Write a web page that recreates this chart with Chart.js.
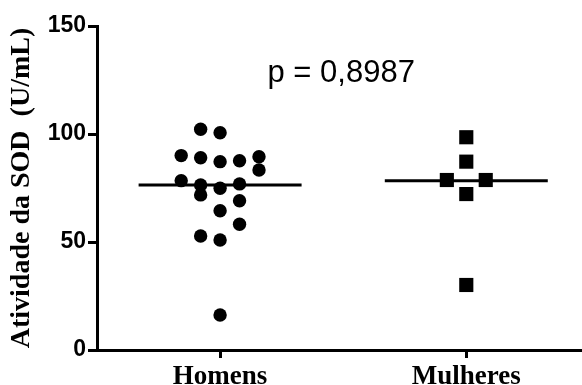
<!DOCTYPE html>
<html>
<head>
<meta charset="utf-8">
<script src="https://cdn.jsdelivr.net/npm/chart.js@4.4.0/dist/chart.umd.min.js"></script>
<style>
  html, body { margin: 0; padding: 0; background: #fff; }
  #wrap { width: 582px; height: 385px; }
</style>
</head>
<body>
<div id="wrap"><canvas id="sodChart" width="582" height="385"></canvas></div>
<script>
// --- Data ---
const groups = ['Homens', 'Mulheres'];
const groupX = [1, 3];

// SOD activity (U/mL) per subject, and the column each dot sits in
const homensSOD = [102.2, 100.6, 90.0, 89.0, 87.2, 87.6, 89.5, 83.3, 78.4, 76.4,
                   71.8, 74.9, 76.9, 69.1, 64.5, 58.2, 52.8, 50.9, 16.2];
const homensCol = [-1, 0, -2, -1, 0, 1, 2, 2, -2, -1,
                   -1, 0, 1, 1, 0, 1, -1, 0, 0];
const mulheresSOD = [98.5, 87.2, 78.7, 78.7, 72.2, 30.1];
const mulheresCol = [0, 0, -1, 1, 0, 0];

const groupMeans = [76.4, 78.4];
const yTicks = [0, 50, 100, 150];
const pValueText = 'p = 0,8987';

// spacing between dot columns and half-length of the mean bar (x units)
const colStep = 0.158;
const barHalf = 0.662;

const toPoints = (vals, cols, cx) => vals.map((v, i) => ({ x: cx + cols[i] * colStep, y: v }));
const meanLine = (i) => [
    { x: groupX[i] - barHalf, y: groupMeans[i] },
    { x: groupX[i] + barHalf, y: groupMeans[i] }
];

// p-value annotation
const pValuePlugin = {
    id: 'pValue',
    afterDraw(chart) {
        const { ctx, scales } = chart;
        ctx.save();
        ctx.fillStyle = '#000';
        ctx.font = '31px "Liberation Sans", Arial, sans-serif';
        ctx.textAlign = 'center';
        ctx.textBaseline = 'alphabetic';
        ctx.fillText(pValueText, scales.x.getPixelForValue(2) - 2, scales.y.getPixelForValue(124));
        ctx.restore();
    }
};

const ctx = document.getElementById('sodChart').getContext('2d');
new Chart(ctx, {
    type: 'scatter',
    data: {
        datasets: [
            {
                label: 'Homens média',
                data: meanLine(0),
                showLine: true,
                borderColor: '#000',
                borderWidth: 3,
                pointRadius: 0
            },
            {
                label: 'Mulheres média',
                data: meanLine(1),
                showLine: true,
                borderColor: '#000',
                borderWidth: 3,
                pointRadius: 0
            },
            {
                label: groups[0],
                data: toPoints(homensSOD, homensCol, groupX[0]),
                pointStyle: 'circle',
                pointRadius: 6.7,
                borderWidth: 0,
                backgroundColor: '#000'
            },
            {
                label: groups[1],
                data: toPoints(mulheresSOD, mulheresCol, groupX[1]),
                pointStyle: 'rect',
                pointRadius: 10,
                borderWidth: 0,
                backgroundColor: '#000'
            }
        ]
    },
    options: {
        responsive: false,
        animation: false,
        devicePixelRatio: 1,
        layout: {
            autoPadding: false,
            padding: { top: 26, right: 0, bottom: 0, left: 0 }
        },
        plugins: {
            legend: { display: false },
            tooltip: { enabled: false }
        },
        scales: {
            x: {
                type: 'linear',
                min: 0,
                max: 3.94,
                afterBuildTicks: (scale) => {
                    scale.ticks = groupX.map(v => ({ value: v }));
                },
                afterFit: (scale) => {
                    scale.height = 35;
                    scale.paddingLeft = 0;
                    scale.paddingRight = 0;
                },
                ticks: {
                    color: '#000',
                    padding: 3,
                    maxRotation: 0,
                    font: { family: '"Liberation Serif", "Times New Roman", serif', size: 27, weight: 'bold' },
                    callback: (v) => groups[groupX.indexOf(v)] || ''
                },
                grid: {
                    display: true,
                    drawOnChartArea: false,
                    drawTicks: true,
                    tickLength: 8,
                    color: '#000',
                    lineWidth: 3
                },
                border: { display: true, color: '#000', width: 3 }
            },
            y: {
                min: 0,
                max: 150,
                afterBuildTicks: (scale) => {
                    scale.ticks = yTicks.map(v => ({ value: v }));
                },
                afterFit: (scale) => { scale.width = 97; },
                ticks: {
                    color: '#000',
                    padding: 2,
                    font: { family: '"Liberation Sans", Arial, sans-serif', size: 23, weight: 'bold' }
                },
                grid: {
                    display: true,
                    drawOnChartArea: false,
                    drawTicks: true,
                    tickLength: 9,
                    color: '#000',
                    lineWidth: 3
                },
                border: { display: true, color: '#000', width: 3 },
                title: {
                    display: true,
                    text: 'Atividade da SOD  (U/mL)',
                    color: '#000',
                    padding: { top: 5, bottom: 0 },
                    font: { family: '"Liberation Serif", "Times New Roman", serif', size: 28, weight: 'bold' }
                }
            }
        }
    },
    plugins: [pValuePlugin]
});
</script>
</body>
</html>
